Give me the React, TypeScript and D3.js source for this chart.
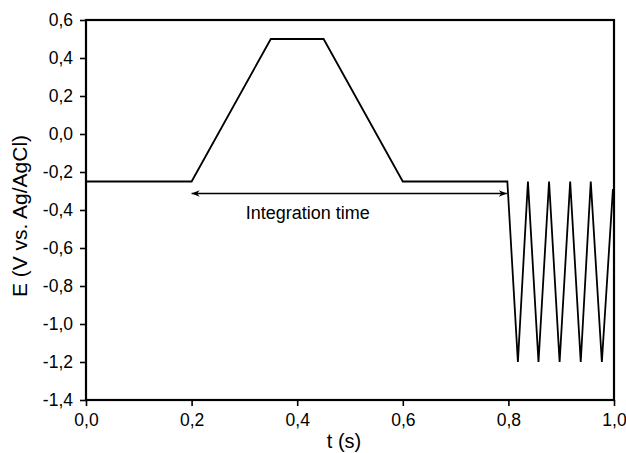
import React, { useEffect, useRef } from 'react';
import * as d3 from 'd3';

// potential waveform (t in s, E in V vs Ag/AgCl)
const timePoints = [0, 0.2, 0.35, 0.45, 0.6, 0.798, 0.818, 0.837, 0.857, 0.877, 0.897, 0.917, 0.937, 0.956, 0.977, 0.998];
const potentials = [-0.25, -0.25, 0.5, 0.5, -0.25, -0.25, -1.2, -0.25, -1.2, -0.25, -1.2, -0.25, -1.2, -0.25, -1.2, -0.29];

const xTicks = [0, 0.2, 0.4, 0.6, 0.8, 1.0];
const yTicks = [0.6, 0.4, 0.2, 0, -0.2, -0.4, -0.6, -0.8, -1.0, -1.2, -1.4];

// integration time arrow
const arrowStart = 0.2;
const arrowEnd = 0.797;
const arrowLevel = -0.313;
const arrowLabel = 'Integration time';
const labelCenter = 0.42;

const W = 626;
const H = 453;
const margin = { top: 20, right: 12, bottom: 53, left: 86 };

const App = () => {
  const svgRef = useRef<SVGSVGElement>(null);

  useEffect(() => {
    const svg = d3.select(svgRef.current);
    svg.selectAll('*').remove();

    const x = d3.scaleLinear().domain([0, 1]).range([margin.left, W - margin.right]);
    const y = d3.scaleLinear().domain([-1.4, 0.6]).range([H - margin.bottom, margin.top]);
    const fmt = (d: number) => d3.format('.1f')(d).replace('.', ',').replace('−', '-');
    const font = 'Liberation Sans, Arial, sans-serif';

    const defs = svg.append('defs');
    ['start', 'end'].forEach((id) => {
      defs
        .append('marker')
        .attr('id', 'arrow-' + id)
        .attr('viewBox', '0 0 10 10')
        .attr('refX', 10)
        .attr('refY', 5)
        .attr('markerWidth', 11)
        .attr('markerHeight', 8)
        .attr('markerUnits', 'userSpaceOnUse')
        .attr('orient', id === 'start' ? 'auto-start-reverse' : 'auto')
        .append('path')
        .attr('d', 'M0,1 L10,5 L0,9 L3,5 Z')
        .attr('fill', '#000');
    });

    // data line
    const line = d3
      .line<number>()
      .x((d) => x(d))
      .y((_, i) => y(potentials[i]));
    svg
      .append('path')
      .attr('d', line(timePoints))
      .attr('fill', 'none')
      .attr('stroke', '#000')
      .attr('stroke-width', 1.8)
      .attr('stroke-linejoin', 'miter');

    // arrow
    svg
      .append('line')
      .attr('x1', x(arrowStart))
      .attr('x2', x(arrowEnd))
      .attr('y1', y(arrowLevel))
      .attr('y2', y(arrowLevel))
      .attr('stroke', '#000')
      .attr('stroke-width', 1.4)
      .attr('marker-start', 'url(#arrow-start)')
      .attr('marker-end', 'url(#arrow-end)');

    svg
      .append('text')
      .attr('x', x(labelCenter))
      .attr('y', y(arrowLevel) + 26)
      .attr('text-anchor', 'middle')
      .style('font-family', font)
      .style('font-size', '18px')
      .text(arrowLabel);

    // frame
    svg
      .append('rect')
      .attr('x', x(0))
      .attr('y', y(0.6))
      .attr('width', x(1) - x(0))
      .attr('height', y(-1.4) - y(0.6))
      .attr('fill', 'none')
      .attr('stroke', '#000')
      .attr('stroke-width', 2.2);

    // axes
    const xAxis = svg
      .append('g')
      .attr('transform', `translate(0,${y(-1.4)})`)
      .call(d3.axisBottom(x).tickValues(xTicks).tickFormat(fmt as any).tickSize(6).tickPadding(8));
    const yAxis = svg
      .append('g')
      .attr('transform', `translate(${x(0)},0)`)
      .call(d3.axisLeft(y).tickValues(yTicks).tickFormat(fmt as any).tickSize(6).tickPadding(7));

    [xAxis, yAxis].forEach((g) => {
      g.select('.domain').remove();
      g.selectAll('line').attr('stroke', '#000').attr('stroke-width', 1.6);
      g.selectAll('text').style('font-family', font).style('font-size', '17.5px').attr('fill', '#000');
    });

    // axis titles
    svg
      .append('text')
      .attr('x', x(0.5) - 6)
      .attr('y', H - 5)
      .attr('text-anchor', 'middle')
      .style('font-family', font)
      .style('font-size', '20px')
      .text('t (s)');

    svg
      .append('text')
      .attr('transform', `translate(27,${(y(0.6) + y(-1.4)) / 2 + 6}) rotate(-90)`)
      .attr('text-anchor', 'middle')
      .style('font-family', font)
      .style('font-size', '21px')
      .text('E (V vs. Ag/AgCl)');
  }, []);

  return (
    <svg
      ref={svgRef}
      width={W}
      height={H}
      style={{ position: 'absolute', left: 0, top: 0, background: '#fff' }}
    />
  );
};

export default App;
